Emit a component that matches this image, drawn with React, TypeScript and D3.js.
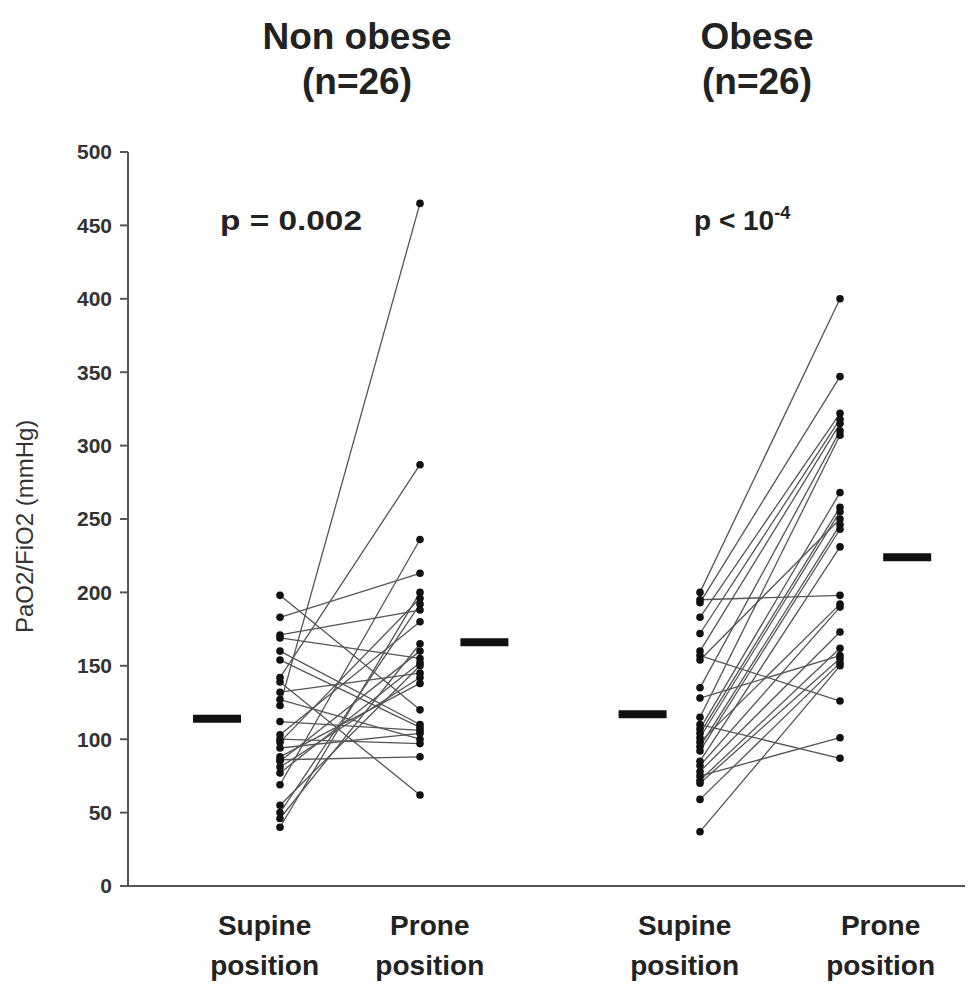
import React from 'react';
import * as d3 from 'd3';

// PaO2/FiO2 values, paired supine -> prone per patient
const nonObeseSupine = [123, 142, 69, 183, 40, 98, 50, 171, 103, 46, 85, 169, 77, 55, 132, 81, 88, 198, 160, 154, 112, 94, 127, 100, 86, 139];
const nonObeseProne = [465, 287, 236, 213, 200, 196, 192, 188, 180, 165, 160, 155, 152, 150, 145, 142, 138, 120, 110, 108, 106, 104, 100, 97, 88, 62];
const obeseSupine = [200, 193, 195, 183, 172, 160, 157, 154, 135, 128, 115, 110, 107, 104, 101, 98, 95, 92, 85, 82, 78, 75, 72, 70, 59, 37];
const obeseProne = [400, 347, 198, 322, 318, 315, 126, 250, 310, 157, 307, 87, 268, 258, 255, 192, 246, 243, 231, 190, 173, 101, 162, 155, 152, 150];

// group means as drawn (thick bars): non obese supine, prone, obese supine, prone
const meanValues = [114, 166, 117, 224];

const groupTitles = ['Non obese', 'Obese'];
const groupCounts = ['(n=26)', '(n=26)'];
const yTicks = [0, 50, 100, 150, 200, 250, 300, 350, 400, 450, 500];
const positionLabels = ['Supine', 'Prone', 'Supine', 'Prone'];

const W = 980;
const H = 986;
const FONT = '"Liberation Sans", Arial, sans-serif';

export default function App() {
  const y = d3.scaleLinear().domain([0, 500]).range([886, 152]);
  // column slots: 1,2 for non obese, 4,5 for obese
  const x = d3.scaleLinear().domain([1, 5]).range([280, 840]);

  const groups = [
    { supine: nonObeseSupine, prone: nonObeseProne, sx: 1, px: 2 },
    { supine: obeseSupine, prone: obeseProne, sx: 4, px: 5 },
  ];

  const labelSlots = [0.89, 2.07, 3.89, 5.29];
  const meanSlots = [0.55, 2.46, 3.59, 5.48];
  const axisLeft = 128;
  const axisRight = 965;

  return (
    <svg width={W} height={H} style={{ position: 'absolute', left: 0, top: 0, background: '#fff' }} fontFamily={FONT}>
      <rect width={W} height={H} fill="#fff" />

      {/* titles */}
      {groupTitles.map((t, i) => {
        const cx = i === 0 ? 357 : 757;
        return (
          <g key={t} fontWeight="bold" fontSize={37} textAnchor="middle" fill="#222">
            <text x={cx} y={49}>{t}</text>
            <text x={cx} y={94}>{groupCounts[i]}</text>
          </g>
        );
      })}

      {/* p values */}
      <text x={220} y={230} fontSize={28} fontWeight="bold" fill="#222" textLength={142} lengthAdjust="spacingAndGlyphs">p = 0.002</text>
      <text x={694} y={230} fontSize={28} fontWeight="bold" fill="#222">
        p &lt; 10<tspan dy={-11} fontSize={18}>-4</tspan>
      </text>

      {/* y axis */}
      <line x1={axisLeft} x2={axisLeft} y1={y(500)} y2={y(0)} stroke="#555" strokeWidth={2} />
      {yTicks.map((t) => (
        <g key={t}>
          <line x1={axisLeft - 8} x2={axisLeft} y1={y(t)} y2={y(t)} stroke="#555" strokeWidth={2} />
          <text x={112} y={y(t)} dy="0.35em" textAnchor="end" fontSize={21} fontWeight="bold" fill="#333">{t}</text>
        </g>
      ))}
      <text transform={`translate(33, ${y(245)}) rotate(-90)`} textAnchor="middle" fontSize={24} fill="#333">
        PaO2/FiO2 (mmHg)
      </text>

      {/* x axis */}
      <line x1={axisLeft} x2={axisRight} y1={y(0)} y2={y(0)} stroke="#555" strokeWidth={2} />
      {positionLabels.map((l, i) => (
        <g key={i} fontSize={28} fontWeight="bold" textAnchor="middle" fill="#222">
          <text x={x(labelSlots[i])} y={935}>{l}</text>
          <text x={x(labelSlots[i])} y={975}>position</text>
        </g>
      ))}

      {/* paired lines and points */}
      {groups.map((g, gi) => (
        <g key={gi}>
          {g.supine.map((s, i) => (
            <line key={'l' + i} x1={x(g.sx)} y1={y(s)} x2={x(g.px)} y2={y(g.prone[i])} stroke="#555" strokeWidth={1.3} />
          ))}
          {g.supine.map((s, i) => (
            <circle key={'s' + i} cx={x(g.sx)} cy={y(s)} r={3.8} fill="#111" />
          ))}
          {g.prone.map((p, i) => (
            <circle key={'p' + i} cx={x(g.px)} cy={y(p)} r={3.8} fill="#111" />
          ))}
        </g>
      ))}

      {/* mean bars */}
      {meanValues.map((v, k) => (
        <line key={'m' + k} x1={x(meanSlots[k]) - 24} x2={x(meanSlots[k]) + 24} y1={y(v)} y2={y(v)} stroke="#111" strokeWidth={8} />
      ))}
    </svg>
  );
}
